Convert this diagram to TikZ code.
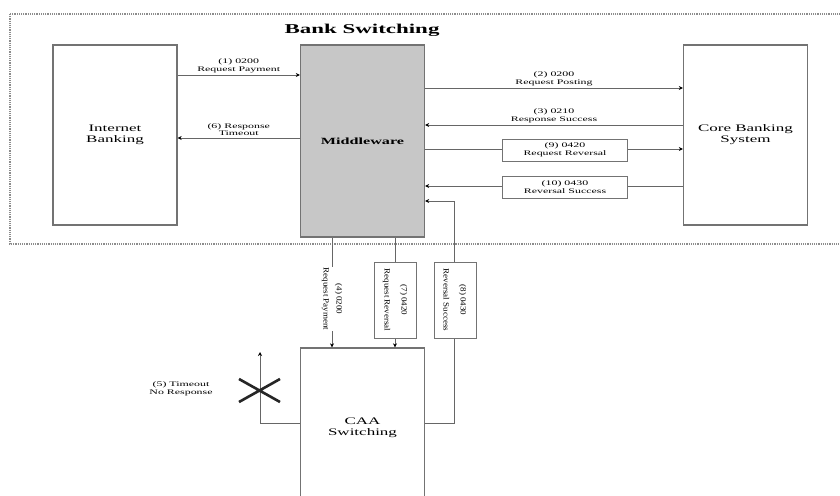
\documentclass[tikz,border=0pt]{standalone}
\usepackage{fontspec}
\usepackage{graphicx}
\setmainfont{Liberation Serif}
\usetikzlibrary{arrows.meta}
\newcommand\hs[1]{\scalebox{1.7}[1]{#1}}
\newcommand\vs[1]{\scalebox{1.5}[1.35]{#1}}
\begin{document}
\begin{tikzpicture}[x=1pt,y=-1pt,
  blk/.style={draw=black!55,line width=1.3pt,fill=white,minimum width=124pt,inner sep=0pt,align=center,font=\fontsize{10}{11}\selectfont},
  lbl/.style={align=center,font=\fontsize{7}{7.5}\selectfont,inner sep=1pt},
  lbox/.style={draw=black!55,line width=0.9pt,fill=white,align=center,font=\fontsize{7}{7.5}\selectfont,inner sep=1pt,minimum width=125pt,minimum height=22pt},
  vbox/.style={draw=black!55,line width=0.9pt,fill=white,align=center,font=\fontsize{6}{17}\selectfont,inner sep=1pt,rotate=-90},
  vlbl/.style={fill=white,align=center,font=\fontsize{6}{13}\selectfont,inner sep=1pt,rotate=-90},
  arr/.style={draw=black!60,line width=0.8pt,-{Stealth[length=4pt,width=4pt,black]}}]
\useasboundingbox (0,0) rectangle (840,495);
\fill[white] (0,0) rectangle (840,495);
% dotted border
\draw[black!45,line width=1.2pt,densely dotted] (10,14) rectangle (852,244);
\node[font=\bfseries\fontsize{13.5}{14}\selectfont] (title) at (362,30) {\hs{Bank Switching}};
% main blocks
\node[blk,minimum height=180pt] (ib) at (115,135) {\hs{Internet}\\\hs{Banking}};
\node[blk,minimum height=192pt,fill=black!22,font=\bfseries\fontsize{9.5}{10}\selectfont] (mw) at (362.5,141) {\hs{Middleware}};
\node[blk,minimum height=180pt] (cbs) at (745.5,135) {\hs{Core Banking}\\\hs{System}};
\node[blk,minimum height=160pt] (caa) at (362.5,428) {\hs{CAA}\\\hs{Switching}};
% IB <-> MW
\draw[arr] (ib.east|-0,75) -- node[lbl,above=1pt] {\hs{(1) 0200}\\\hs{Request Payment}} (mw.west|-0,75);
\draw[arr] (mw.west|-0,138) -- node[lbl,above=1pt] {\hs{(6) Response}\\\hs{Timeout}} (ib.east|-0,138);
% MW <-> CBS
\draw[arr] (mw.east|-0,88) -- node[lbl,above=1pt,pos=0.5] {\hs{(2) 0200}\\\hs{Request Posting}} (cbs.west|-0,88);
\draw[arr] (cbs.west|-0,125) -- node[lbl,above=1pt,pos=0.5] {\hs{(3) 0210}\\\hs{Response Success}} (mw.east|-0,125);
\draw[arr] (mw.east|-0,149) -- (cbs.west|-0,149);
\node[lbox] (l9) at (565,150) {\hs{(9) 0420}\\\hs{Request Reversal}};
\draw[arr] (cbs.west|-0,186) -- (mw.east|-0,186);
\node[lbox] (l10) at (565,187) {\hs{(10) 0430}\\\hs{Reversal Success}};
% MW -> CAA
\draw[arr] (mw.south-|332,0) -- (caa.north-|332,0);
\node[vlbl] (l4) at (332,299) {\vs{(4) 0200}\\\vs{Request Payment}};
\draw[arr] (mw.south-|395,0) -- (caa.north-|395,0);
\node[vbox,minimum width=76pt,minimum height=42pt] (l7) at (395,300) {\vs{(7) 0420}\\\vs{Request Reversal}};
% CAA -> MW (8)
\coordinate (c8a) at (454,423);
\coordinate (c8b) at (454,201);
\draw[arr] (caa.east|-c8a) -- (c8a) -- (c8b) -- (mw.east|-c8b);
\node[vbox,minimum width=76pt,minimum height=42pt] (l8) at (455,300) {\vs{(8) 0430}\\\vs{Reversal Success}};
% timeout path
\coordinate (c5a) at (260,423);
\coordinate (c5b) at (260,352);
\draw[arr] (caa.west|-c5a) -- (c5a) -- (c5b);
\draw[line width=2.6pt,black!85] (239,379) -- (280,402) (239,402) -- (280,379);
\node[lbl] (l5) at (181,389) {\hs{(5) Timeout}\\\hs{No Response}};
\end{tikzpicture}
\end{document}
